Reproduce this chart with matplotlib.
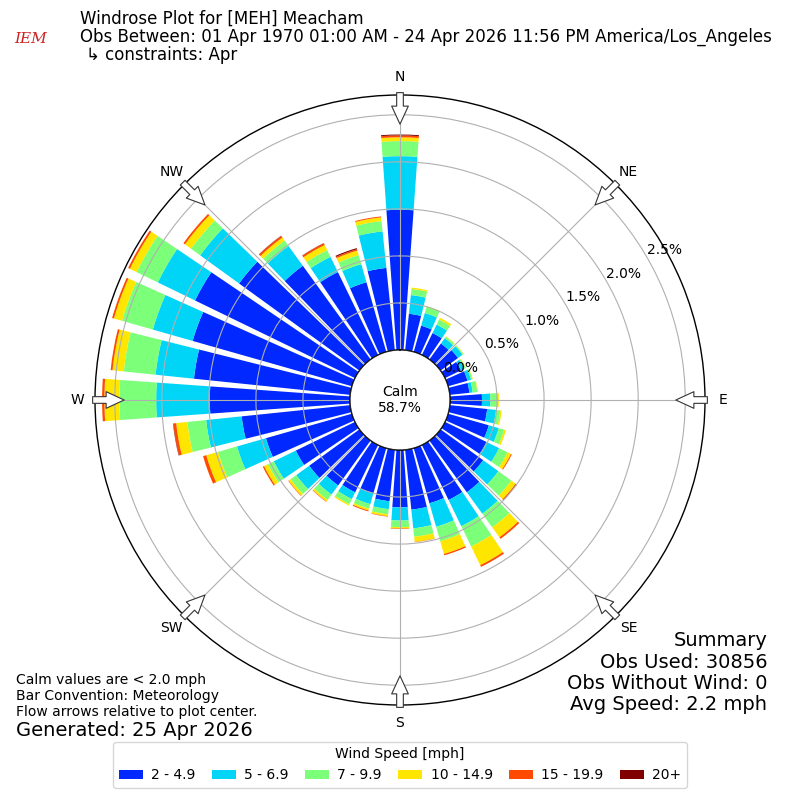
import numpy as np
import matplotlib
matplotlib.use('Agg')
import matplotlib.pyplot as plt
from matplotlib.patches import Circle, Patch

# wind direction (deg, direction wind is from), 10 degree sectors
directions = np.arange(0, 360, 10)

speed_bins = ['2 - 4.9', '5 - 6.9', '7 - 9.9', '10 - 14.9', '15 - 19.9', '20+']
bin_colors = ['#0028ff', '#00d5f7', '#7cff79', '#ffe600', '#ff4a00', '#800000']

# percent of observations in each sector / speed bin
pct_2_5 = [1.49, 0.39, 0.29, 0.26, 0.21, 0.23, 0.19, 0.215, 0.21, 0.34, 0.40, 0.45,
           0.49, 0.56, 0.68, 0.65, 0.61, 0.64, 0.61, 0.55, 0.50, 0.56, 0.59, 0.66,
           0.70, 0.95, 1.16, 1.49, 1.67, 1.76, 1.89, 1.58, 1.23, 0.98, 0.77, 0.88]
pct_5_7 = [0.57, 0.20, 0.14, 0.10, 0.07, 0.06, 0.04, 0.04, 0.035, 0.09, 0.095, 0.11,
           0.15, 0.20, 0.28, 0.31, 0.26, 0.20, 0.14, 0.085, 0.12, 0.08, 0.12, 0.17,
           0.26, 0.32, 0.38, 0.57, 0.41, 0.44, 0.44, 0.51, 0.26, 0.18, 0.20, 0.39]
pct_7_10 = [0.16, 0.065, 0.07, 0.06, 0.02, 0.01, 0.015, 0.015, 0.05, 0.07, 0.045, 0.06,
            0.10, 0.17, 0.18, 0.24, 0.16, 0.09, 0.07, 0.055, 0.05, 0.06, 0.07, 0.075,
            0.07, 0.21, 0.20, 0.39, 0.34, 0.34, 0.25, 0.12, 0.07, 0.08, 0.10, 0.11]
pct_10_15 = [0.04, 0.015, 0.005, 0.02, 0.005, 0.005, 0.005, 0.005, 0.005, 0.02, 0.015, 0.02,
             0.04, 0.055, 0.13, 0.22, 0.14, 0.055, 0.015, 0.02, 0.02, 0.015, 0.02, 0.025,
             0.045, 0.13, 0.12, 0.16, 0.12, 0.09, 0.08, 0.08, 0.04, 0.06, 0.05, 0.04]
pct_15_20 = [0.02, 0.0, 0.0, 0.0, 0.0, 0.0, 0.0, 0.0, 0.0, 0.0, 0.0, 0.0,
             0.01, 0.015, 0.02, 0.02, 0.015, 0.003, 0.005, 0.005, 0.01, 0.0, 0.005, 0.005,
             0.015, 0.035, 0.03, 0.025, 0.02, 0.02, 0.02, 0.02, 0.02, 0.02, 0.015, 0.01]
pct_20_up = [0.01, 0.0, 0.0, 0.0, 0.0, 0.0, 0.0, 0.0, 0.0, 0.0, 0.0, 0.0,
             0.0, 0.0, 0.0, 0.0, 0.0, 0.0, 0.0, 0.0, 0.0, 0.0, 0.0, 0.0,
             0.0, 0.0, 0.004, 0.0, 0.0, 0.0, 0.0, 0.0, 0.004, 0.003, 0.012, 0.0]
speed_pcts = [pct_2_5, pct_5_7, pct_7_10, pct_10_15, pct_15_20, pct_20_up]

calm_pct = 58.7
rticks = [0.0, 0.5, 1.0, 1.5, 2.0, 2.5]
compass = ['N', 'NE', 'E', 'SE', 'S', 'SW', 'W', 'NW']

fig = plt.figure(figsize=(8, 8), dpi=100)
ax = fig.add_axes([95 / 800, 95 / 800, 610 / 800, 610 / 800], projection='polar')
ax.set_theta_zero_location('N')
ax.set_theta_direction(-1)

theta = np.deg2rad(directions)
bottom = np.zeros(len(directions))
for vals, color in zip(speed_pcts, bin_colors):
    vals = np.array(vals)
    ax.bar(theta, vals, width=np.deg2rad(8.2), bottom=bottom, color=color,
           linewidth=0, align='center')
    bottom = bottom + vals

rmax = 2.71
ax.set_ylim(0, rmax)
ax.set_rorigin(-0.531)
ax.set_yticks(rticks)
ax.set_yticklabels(['%.1f%%' % t for t in rticks], fontsize=10)
ax.set_rlabel_position(60)
ax.set_xticks(np.deg2rad(np.arange(0, 360, 45)))
ax.set_xticklabels(compass, fontsize=10)
ax.tick_params(axis='x', pad=2.5)
ax.grid(True, color='#b0b0b0', linewidth=0.8)
ax.spines['polar'].set_linewidth(1.0)

# calm circle in the middle
calm = Circle((0.5, 0.5), 50 / 610, transform=ax.transAxes, facecolor='white',
              edgecolor='black', linewidth=1.0, zorder=5)
ax.add_patch(calm)
ax.text(0.5, 0.5, 'Calm\n%.1f%%' % calm_pct, transform=ax.transAxes, ha='center',
        va='center', fontsize=10, zorder=6)

# flow arrows pointing at the plot centre
for ang in np.arange(0, 360, 45):
    ax.annotate('', xy=(np.deg2rad(ang), 2.40), xytext=(np.deg2rad(ang), 2.735),
                xycoords='data', annotation_clip=False,
                arrowprops=dict(arrowstyle='simple,head_length=0.65,head_width=0.6,tail_width=0.24',
                                fc='white', ec='#333333', lw=0.8, mutation_scale=20,
                                shrinkA=0, shrinkB=0), zorder=7)

# header
fig.text(0.038, 0.951, 'IEM', color='#cc2222', fontsize=11, family='serif',
         style='italic', ha='center', va='center')
fig.text(0.1, 0.976, 'Windrose Plot for [MEH] Meacham', fontsize=12, va='center')
fig.text(0.1, 0.954, 'Obs Between: 01 Apr 1970 01:00 AM - 24 Apr 2026 11:56 PM America/Los_Angeles',
         fontsize=12, va='center')
fig.text(0.108, 0.931, '↳ constraints: Apr', fontsize=12, va='center')

# notes
fig.text(0.02, 0.15, 'Calm values are < 2.0 mph', fontsize=10, va='center')
fig.text(0.02, 0.13, 'Bar Convention: Meteorology', fontsize=10, va='center')
fig.text(0.02, 0.11, 'Flow arrows relative to plot center.', fontsize=10, va='center')
fig.text(0.02, 0.0875, 'Generated: 25 Apr 2026', fontsize=14, va='center')

fig.text(0.959, 0.2, 'Summary', fontsize=14, ha='right', va='center')
fig.text(0.959, 0.1725, 'Obs Used: 30856', fontsize=14, ha='right', va='center')
fig.text(0.959, 0.146, 'Obs Without Wind: 0', fontsize=14, ha='right', va='center')
fig.text(0.959, 0.119, 'Avg Speed: 2.2 mph', fontsize=14, ha='right', va='center')

handles = [Patch(facecolor=c, edgecolor='none') for c in bin_colors]
fig.legend(handles, speed_bins, loc='center', bbox_to_anchor=(0.5, 0.044), ncol=6,
           title='Wind Speed [mph]', fontsize=10, title_fontsize=10,
           handlelength=1.75, handletextpad=0.6, columnspacing=1.15)

fig.savefig('out.png', dpi=100)
